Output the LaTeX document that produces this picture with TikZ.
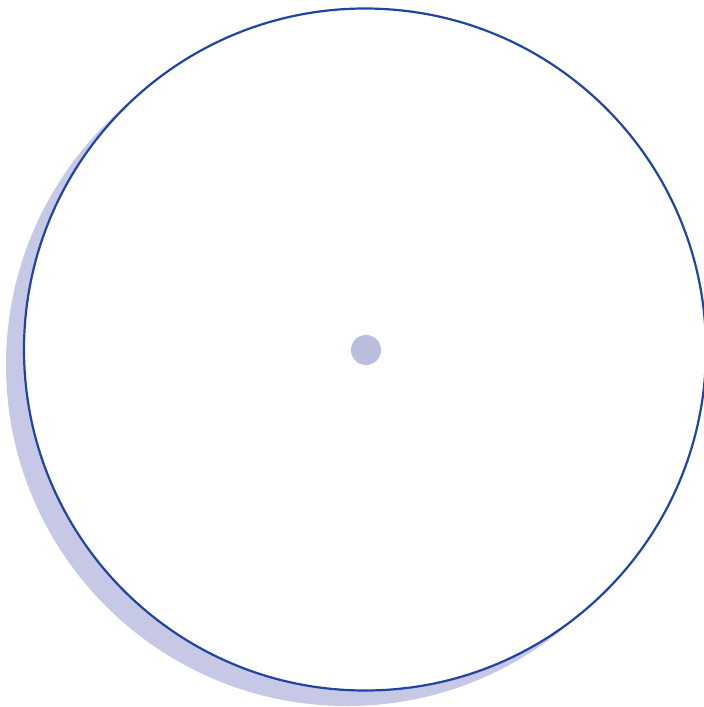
\documentclass[tikz,border=0pt]{standalone}
\usepackage{tikz}
\definecolor{cizgiMavi}{HTML}{1F45A0}
\definecolor{golgeLila}{HTML}{C7C8E5}
\definecolor{noktaLila}{HTML}{BBBDDF}

\begin{document}
\begin{tikzpicture}[x=1pt,y=-1pt,
  golge/.style={fill=golgeLila},
  daire/.style={fill=white,draw=cizgiMavi,line width=2.2pt},
  merkez/.style={fill=noktaLila}]
\useasboundingbox (0,0) rectangle (704,707);
\fill[golge] (347,365) circle (341);
\filldraw[daire] (365,349.5) circle (341);
\fill[merkez] (366,350) circle (15);
\end{tikzpicture}
\end{document}
